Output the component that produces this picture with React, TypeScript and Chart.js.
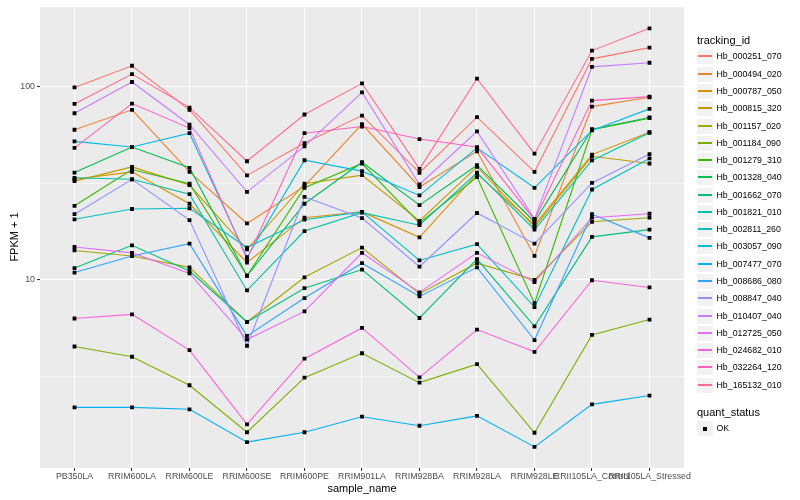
import React, { useEffect, useRef } from "react";
import { Chart, registerables } from "chart.js";

Chart.register(...registerables);

const categories = [
  "PB350LA", "RRIM600LA", "RRIM600LE", "RRIM600SE", "RRIM600PE", "RRIM901LA",
  "RRIM928BA", "RRIM928LA", "RRIM928LE", "RRII105LA_Control", "RRII105LA_Stressed",
];

const trackingIds = [
  "Hb_000251_070", "Hb_000494_020", "Hb_000787_050", "Hb_000815_320", "Hb_001157_020",
  "Hb_001184_090", "Hb_001279_310", "Hb_001328_040", "Hb_001662_070", "Hb_001821_010",
  "Hb_002811_260", "Hb_003057_090", "Hb_007477_070", "Hb_008686_080", "Hb_008847_040",
  "Hb_010407_040", "Hb_012725_050", "Hb_024682_010", "Hb_032264_120", "Hb_165132_010",
];

const colors = [
  "#F8766D", "#EA8331", "#D89000", "#C09B00", "#A3A500", "#7CAE00", "#39B600", "#00BB4E",
  "#00BF7D", "#00C1A3", "#00BFC4", "#00BAE0", "#00B0F6", "#35A2FF", "#9590FF", "#C77CFF",
  "#E76BF3", "#FA62DB", "#FF62BC", "#FF6C91",
];

// FPKM + 1 per sample (same order as categories)
const Hb_000251_070 = [99.5, 128.8, 76.1, 34.8, 51.2, 71.1, 35.9, 69.7, 36.3, 139.9, 160];
const Hb_000494_020 = [60.0, 76.1, 36.3, 19.6, 30.6, 64.2, 30.3, 46.4, 13.3, 79.1, 88.4];
const Hb_000787_050 = [33.2, 36.3, 24.8, 12.3, 21.0, 22.5, 16.6, 35.4, 19.3, 44.6, 58.3];
const Hb_000815_320 = [32.5, 38.5, 31.0, 14.4, 31.5, 34.9, 20.2, 38.5, 18.8, 43.7, 40.1];
const Hb_001157_020 = [14.2, 13.3, 11.6, 6.04, 10.3, 14.7, 8.47, 12.2, 10.0, 20.0, 21.0];
const Hb_001184_090 = [4.51, 3.99, 2.84, 1.62, 3.11, 4.16, 2.93, 3.65, 1.61, 5.18, 6.22];
const Hb_001279_310 = [24.2, 37.3, 31.5, 10.5, 30.0, 40.1, 19.7, 34.1, 7.57, 60.0, 68.9];
const Hb_001328_040 = [36.0, 48.8, 38.1, 10.5, 24.8, 40.7, 24.4, 39.3, 20.0, 60.4, 69.5];
const Hb_001662_070 = [11.5, 15.1, 11.1, 6.04, 9.05, 11.3, 6.34, 12.8, 5.74, 16.7, 18.2];
const Hb_001821_010 = [33.8, 33.2, 27.8, 8.81, 17.9, 22.3, 19.2, 35.9, 18.2, 41.6, 57.9];
const Hb_002811_260 = [20.6, 23.3, 23.5, 14.7, 20.5, 22.5, 12.6, 15.3, 7.22, 29.4, 42.6];
const Hb_003057_090 = [52.2, 48.8, 57.6, 13.1, 41.7, 36.6, 27.4, 48.3, 30.0, 59.5, 77.0];
const Hb_007477_070 = [2.18, 2.18, 2.13, 1.44, 1.62, 1.95, 1.75, 1.97, 1.36, 2.26, 2.51];
const Hb_008686_080 = [10.9, 13.3, 15.4, 5.12, 8.04, 12.2, 8.2, 11.6, 4.87, 21.9, 16.5];
const Hb_008847_040 = [21.9, 33.2, 20.4, 4.55, 26.9, 20.9, 11.7, 22.2, 15.4, 31.8, 44.9];
const Hb_010407_040 = [73.1, 106.1, 63.7, 28.6, 49.2, 93.8, 31.2, 58.8, 20.7, 127.2, 133.5];
const Hb_012725_050 = [14.8, 13.8, 10.8, 4.9, 6.86, 13.8, 8.6, 13.8, 9.72, 21.0, 22.0];
const Hb_024682_010 = [6.3, 6.62, 4.32, 1.78, 3.9, 5.63, 3.12, 5.52, 4.23, 9.95, 9.13];
const Hb_032264_120 = [48.3, 82.0, 61.2, 12.8, 57.6, 62.4, 53.7, 48.8, 20.5, 85.0, 89.1];
const Hb_165132_010 = [81.7, 116.7, 78.2, 41.2, 72.0, 104.4, 37.6, 110.4, 45.1, 154.4, 201.4];

const seriesValues = [
  Hb_000251_070, Hb_000494_020, Hb_000787_050, Hb_000815_320, Hb_001157_020,
  Hb_001184_090, Hb_001279_310, Hb_001328_040, Hb_001662_070, Hb_001821_010,
  Hb_002811_260, Hb_003057_090, Hb_007477_070, Hb_008686_080, Hb_008847_040,
  Hb_010407_040, Hb_012725_050, Hb_024682_010, Hb_032264_120, Hb_165132_010,
];

const yMajorTicks = [10, 100];
const yMinorTicks = [3.162, 31.62];
const yMin = 1.057;
const yMax = 259;

const FONT = "'Liberation Sans', Arial, Helvetica, sans-serif";

const panelBg = {
  id: "panelBg",
  beforeDraw(chart: any) {
    const { ctx, chartArea: a } = chart;
    ctx.save();
    ctx.fillStyle = "#EBEBEB";
    ctx.fillRect(a.left, a.top, a.right - a.left, a.bottom - a.top);
    ctx.restore();
  },
};

export default function App() {
  const ref = useRef<HTMLCanvasElement>(null);

  useEffect(() => {
    if (!ref.current) return;
    const lineSets = seriesValues.map((vals, i) => ({
      label: trackingIds[i],
      data: vals.map((v, j) => ({ x: j, y: v })),
      borderColor: colors[i],
      backgroundColor: colors[i],
      borderWidth: 1.1,
      pointRadius: 0,
      tension: 0,
      order: 21 - i,
    }));
    const pointSet = {
      label: "OK",
      data: seriesValues.flatMap((vals) => vals.map((v, j) => ({ x: j, y: v }))),
      showLine: false,
      pointStyle: "rect",
      pointRadius: 2.7,
      pointBackgroundColor: "#000000",
      pointBorderWidth: 0,
      borderColor: "#000000",
      order: 0,
    };
    const chart = new Chart(ref.current, {
      type: "line",
      data: { datasets: [...lineSets, pointSet] as any },
      plugins: [panelBg],
      options: {
        animation: false,
        responsive: false,
        devicePixelRatio: 1,
        layout: { padding: { left: 0, top: 5, right: 116, bottom: 0 } },
        plugins: { legend: { display: false }, tooltip: { enabled: false } },
        scales: {
          x: {
            type: "linear",
            min: -0.6,
            max: 10.6,
            afterBuildTicks: (s: any) => {
              s.ticks = categories.map((_, i) => ({ value: i }));
            },
            afterFit: (s: any) => {
              s.height = 32;
            },
            ticks: {
              autoSkip: false,
              maxRotation: 0,
              minRotation: 0,
              padding: 0,
              color: "#4D4D4D",
              font: { family: FONT, size: 8.8 },
              callback: (v: any) => categories[v] ?? "",
            },
            grid: {
              color: "#FFFFFF",
              lineWidth: 1.07,
              tickLength: 3,
              tickColor: "#333333",
              tickWidth: 1.07,
            },
            border: { display: false },
          },
          y: {
            type: "logarithmic",
            min: yMin,
            max: yMax,
            afterBuildTicks: (s: any) => {
              s.ticks = [...yMinorTicks, ...yMajorTicks]
                .sort((a, b) => a - b)
                .map((v) => ({ value: v, major: yMajorTicks.includes(v) }));
            },
            afterFit: (s: any) => {
              s.width = 40;
            },
            ticks: {
              padding: 2,
              color: "#4D4D4D",
              font: { family: FONT, size: 8.8 },
              callback: (v: any) => (yMajorTicks.includes(v) ? String(v) : ""),
            },
            grid: {
              color: "#FFFFFF",
              lineWidth: (c: any) => (c.tick && yMajorTicks.includes(c.tick.value) ? 1.07 : 0.53),
              tickLength: 3,
              tickColor: (c: any) =>
                c.tick && yMajorTicks.includes(c.tick.value) ? "#333333" : "rgba(0,0,0,0)",
              tickWidth: 1.07,
            },
            border: { display: false },
          },
        },
      } as any,
    });
    return () => chart.destroy();
  }, []);

  const rowH = 17.28;
  const firstTop = 48.4;

  const keyBox = (
    <div
      style={{
        position: "absolute",
        left: 1,
        top: 1,
        width: 16,
        height: 15,
        background: "#F2F2F2",
      }}
    />
  );

  return (
    <div
      style={{
        position: "absolute",
        left: 0,
        top: 0,
        width: 800,
        height: 500,
        background: "#FFFFFF",
        fontFamily: FONT,
        overflow: "hidden",
      }}
    >
      <canvas ref={ref} width={800} height={500} style={{ position: "absolute", left: 0, top: 0 }} />
      <div
        style={{
          position: "absolute",
          left: 13.5 - 100,
          top: 236.5 - 7,
          width: 200,
          height: 14,
          lineHeight: "14px",
          fontSize: 11,
          textAlign: "center",
          color: "#000",
          transform: "rotate(-90deg)",
          whiteSpace: "nowrap",
        }}
      >
        FPKM + 1
      </div>
      <div
        style={{
          position: "absolute",
          left: 262,
          top: 481,
          width: 200,
          height: 14,
          lineHeight: "14px",
          fontSize: 11,
          textAlign: "center",
          color: "#000",
          whiteSpace: "nowrap",
        }}
      >
        sample_name
      </div>
      <div
        style={{
          position: "absolute",
          left: 697,
          top: 34,
          height: 13,
          lineHeight: "13px",
          fontSize: 11,
          color: "#000",
          whiteSpace: "nowrap",
        }}
      >
        tracking_id
      </div>
      {trackingIds.map((id, i) => (
        <div
          key={id}
          style={{
            position: "absolute",
            left: 696,
            top: Math.round(firstTop + i * rowH),
            height: 17,
            width: 104,
          }}
        >
          {keyBox}
          <div
            style={{
              position: "absolute",
              left: 2,
              top: 7,
              width: 14,
              height: 2,
              background: colors[i],
            }}
          />
          <div
            style={{
              position: "absolute",
              left: 20.5,
              top: 0,
              height: 17,
              lineHeight: "17px",
              fontSize: 8.8,
              color: "#000",
              whiteSpace: "nowrap",
            }}
          >
            {id}
          </div>
        </div>
      ))}
      <div
        style={{
          position: "absolute",
          left: 697,
          top: 406,
          height: 13,
          lineHeight: "13px",
          fontSize: 11,
          color: "#000",
          whiteSpace: "nowrap",
        }}
      >
        quant_status
      </div>
      <div style={{ position: "absolute", left: 696, top: 420, height: 17, width: 104 }}>
        {keyBox}
        <div
          style={{
            position: "absolute",
            left: 7,
            top: 7,
            width: 4,
            height: 4,
            background: "#000",
          }}
        />
        <div
          style={{
            position: "absolute",
            left: 20.5,
            top: 0,
            height: 17,
            lineHeight: "17px",
            fontSize: 8.8,
            color: "#000",
            whiteSpace: "nowrap",
          }}
        >
          OK
        </div>
      </div>
    </div>
  );
}
